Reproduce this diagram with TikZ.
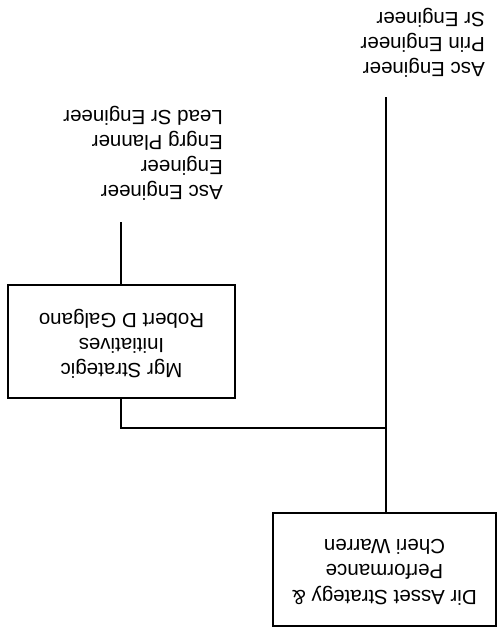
\documentclass[tikz,border=0pt]{standalone}
\usepackage{fontspec}
\setmainfont{Liberation Sans}
\begin{document}
\begin{tikzpicture}[x=1pt,y=-1pt,
  chart/.style={line width=1.3pt,black},
  posbox/.style={draw,line width=1.3pt,rotate=180,align=center,inner sep=0pt,
    font=\fontsize{20.5}{25.3}\selectfont},
  stafflist/.style={rotate=180,align=left,inner sep=0pt,anchor=north west,
    font=\fontsize{20.5}{25.3}\selectfont}]
\useasboundingbox (0,0) rectangle (497,635);

% position boxes (chart is printed turned half a turn)
\node[posbox,minimum width=223pt,minimum height=113pt,text depth=5.5pt] (dir) at (384.5,569.5)
  {Dir Asset Strategy \&\\Performance\\Cheri Warren};
\node[posbox,minimum width=227pt,minimum height=113pt,text depth=9pt] (mgr) at (121.5,341.5)
  {Mgr Strategic\\Initiatives\\Robert D Galgano};

% staff lists
\node[stafflist] (lista) at (223,201)
  {Asc Engineer\\Engineer\\Engrg Planner\\Lead Sr Engineer};
\node[stafflist] (listb) at (485,78)
  {Asc Engineer\\Prin Engineer\\Sr Engineer};

% connector ends
\coordinate (topb) at (386,97);
\coordinate (topa) at (121,222);
\coordinate (junc) at (386,428);

% connectors
\draw[chart] (dir.south -| topb) -- (topb);
\draw[chart] (mgr.north -| topa) |- (junc);
\draw[chart] (mgr.south -| topa) -- (topa);
\end{tikzpicture}
\end{document}
